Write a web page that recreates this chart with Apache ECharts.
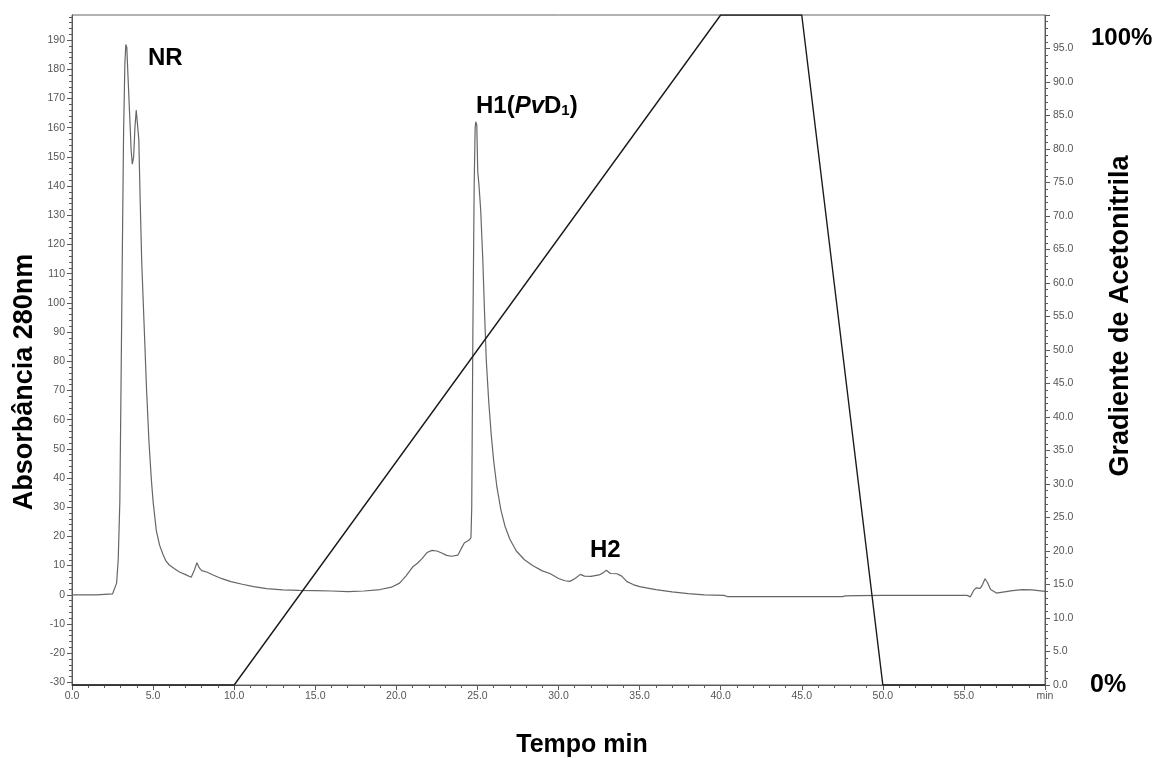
<!DOCTYPE html>
<html>
<head>
<meta charset="utf-8">
<title>Cromatograma</title>
<script src="https://cdn.jsdelivr.net/npm/echarts@6/dist/echarts.min.js"></script>
<style>
  html, body { margin: 0; padding: 0; background: #ffffff; }
  #chart { width: 1152px; height: 758px; }
</style>
</head>
<body>
<div id="chart"></div>
<script>
// Retention time (min) and absorbance at 280 nm
const timeMin = [
  0, 1.5, 1.6, 2.5, 2.6, 2.75, 2.85, 2.95, 3.02, 3.1, 3.18, 3.26, 3.32, 3.38, 3.45, 3.55, 3.65, 3.72,
  3.8, 3.88, 3.96, 4.04, 4.12, 4.2, 4.3, 4.45, 4.6, 4.75, 4.9, 5.0, 5.2, 5.4, 5.6, 5.8, 6.0, 6.3, 6.6,
  7.0, 7.35, 7.55, 7.7, 7.85, 8.0, 8.3, 8.7, 9.2, 9.8, 10.5, 11.2, 12.0, 13.0, 14.0, 15.0, 16.0, 17.0,
  18.0, 19.0, 19.7, 20.2, 20.6, 21.0, 21.3, 21.6, 21.9, 22.2, 22.5, 22.8, 23.1, 23.4, 23.8, 24.0, 24.2,
  24.45, 24.6, 24.65, 24.72, 24.8, 24.86, 24.9, 24.96, 25.02, 25.1, 25.2, 25.33, 25.45, 25.55, 25.7,
  25.85, 26.0, 26.2, 26.45, 26.7, 27.0, 27.4, 27.9, 28.4, 29.0, 29.5, 30.0, 30.4, 30.7, 31.0, 31.35,
  31.6, 32.0, 32.5, 32.75, 32.95, 33.2, 33.6, 33.9, 34.2, 34.6, 35.0, 36.0, 37.0, 38.0, 39.0, 40.2,
  40.4, 44.0, 47.5, 47.7, 48.5, 50.0, 55.2, 55.4, 55.6, 55.75, 56.0, 56.15, 56.3, 56.45, 56.65, 57.0,
  57.5, 58.0, 58.6, 59.2, 60.0
];
const absorbance = [
  0, 0, 0.3, 0.3, 0.8, 4, 12, 32, 70, 115, 158, 182, 188.5, 187.5, 178, 165, 152, 147.5,
  150, 160, 166, 165.5, 156, 136, 114, 92, 70, 52, 39, 32, 22, 17, 14, 11.5, 10.2, 9.0, 7.9,
  6.9, 6.0, 8.5, 11, 9.2, 8.3, 7.8, 6.8, 5.6, 4.5, 3.6, 2.8, 2.1, 1.7, 1.5, 1.4, 1.3, 1.1,
  1.3, 1.8, 2.6, 4.0, 6.5, 9.5, 10.8, 12.5, 14.5, 15.2, 15.0, 14.3, 13.5, 13.2, 13.6, 15.8, 17.8,
  18.6, 19.5, 30, 90, 140, 160, 162, 161, 145, 140, 132, 115, 95, 80, 66,
  55, 46, 37, 29, 23.5, 19, 15, 12, 10, 8.2, 7.2, 5.6, 4.8, 4.6, 5.5, 7.0,
  6.4, 6.3, 6.8, 7.5, 8.4, 7.3, 7.2, 6.4, 4.6, 3.5, 2.8, 1.8, 1.0, 0.4, 0.0, -0.2,
  -0.6, -0.6, -0.6, -0.4, -0.3, -0.2, -0.2, -0.7, 1.5, 2.4, 2.2, 3.5, 5.5, 4.2, 1.8, 0.6,
  1.0, 1.4, 1.8, 1.7, 1.2
];

// Acetonitrile gradient program (% B)
const gradTime = [0, 10, 40, 45, 50, 60];
const gradPct = [0, 0, 100, 100, 0, 0];

// Tick values
const absTicks = [-30, -20, -10, 0, 10, 20, 30, 40, 50, 60, 70, 80, 90, 100, 110, 120, 130, 140, 150, 160, 170, 180, 190];
const absMinorTicks = [];
for (let v = -30; v <= 198; v += 2) absMinorTicks.push(v);

const FONT = "'Liberation Sans', Arial, Helvetica, sans-serif";
const AXIS_COLOR = '#5a5a5a';
const LABEL_COLOR = '#555555';

const chart = echarts.init(document.getElementById('chart'), null, { renderer: 'canvas' });

const option = {
  backgroundColor: '#ffffff',
  animation: false,
  grid: {
    left: 72, right: 107, top: 15, bottom: 73,
    show: true, borderColor: '#666666', borderWidth: 1, backgroundColor: 'transparent'
  },
  xAxis: {
    type: 'value', min: 0, max: 60, interval: 5,
    axisLine: { show: true, onZero: false, lineStyle: { color: AXIS_COLOR, width: 1 } },
    axisTick: { show: true, length: 5, lineStyle: { color: AXIS_COLOR } },
    minorTick: { show: true, splitNumber: 5, length: 3, lineStyle: { color: AXIS_COLOR } },
    splitLine: { show: false },
    axisLabel: {
      color: LABEL_COLOR, fontFamily: FONT, fontSize: 10.5, margin: 6,
      formatter: v => (v === 60 ? 'min' : v.toFixed(1))
    }
  },
  yAxis: [
    {
      type: 'value', position: 'left', min: -30.9, max: 198.6,
      axisLine: { show: true, onZero: false, lineStyle: { color: AXIS_COLOR, width: 1 } },
      axisTick: { show: true, length: 5, customValues: absTicks, lineStyle: { color: AXIS_COLOR } },
      splitLine: { show: false },
      axisLabel: {
        color: LABEL_COLOR, fontFamily: FONT, fontSize: 10.5, margin: 7,
        customValues: absTicks, formatter: v => String(v)
      }
    },
    {
      type: 'value', position: 'right', min: 0, max: 100, interval: 5,
      axisLine: { show: true, onZero: false, lineStyle: { color: AXIS_COLOR, width: 1 } },
      axisTick: { show: true, length: 5, lineStyle: { color: AXIS_COLOR } },
      minorTick: { show: true, splitNumber: 5, length: 3, lineStyle: { color: AXIS_COLOR } },
      splitLine: { show: false },
      axisLabel: {
        color: LABEL_COLOR, fontFamily: FONT, fontSize: 10.5, margin: 8,
        showMaxLabel: false, formatter: v => v.toFixed(1)
      }
    },
    {
      // minor ticks of the absorbance scale
      type: 'value', position: 'left', min: -30.9, max: 198.6,
      axisLine: { show: false, onZero: false },
      axisTick: { show: true, length: 3, customValues: absMinorTicks, lineStyle: { color: AXIS_COLOR } },
      splitLine: { show: false },
      axisLabel: { show: false }
    }
  ],
  series: [
    {
      name: 'Absorbância 280nm',
      type: 'line',
      yAxisIndex: 0,
      showSymbol: false,
      symbol: 'none',
      lineStyle: { color: '#666666', width: 1.2 },
      data: timeMin.map((t, i) => [t, absorbance[i]])
    },
    {
      name: 'Gradiente de Acetonitrila',
      type: 'line',
      yAxisIndex: 1,
      showSymbol: false,
      symbol: 'none',
      lineStyle: { color: '#1a1a1a', width: 1.4 },
      data: gradTime.map((t, i) => [t, gradPct[i]])
    }
  ],
  graphic: [
    {
      type: 'text', x: 25, y: 382, rotation: Math.PI / 2,
      style: { text: 'Absorbância 280nm', fontFamily: FONT, fontWeight: 'bold', fontSize: 27,
        fill: '#000', align: 'center', verticalAlign: 'middle' }
    },
    {
      type: 'text', x: 1121, y: 316, rotation: Math.PI / 2,
      style: { text: 'Gradiente de Acetonitrila', fontFamily: FONT, fontWeight: 'bold', fontSize: 27,
        fill: '#000', align: 'center', verticalAlign: 'middle' }
    },
    {
      type: 'text', x: 582, y: 745,
      style: { text: 'Tempo min', fontFamily: FONT, fontWeight: 'bold', fontSize: 25,
        fill: '#000', align: 'center', verticalAlign: 'middle' }
    },
    {
      type: 'text', x: 1091, y: 38,
      style: { text: '100%', fontFamily: FONT, fontWeight: 'bold', fontSize: 24,
        fill: '#000', align: 'left', verticalAlign: 'middle' }
    },
    {
      type: 'text', x: 1090, y: 685,
      style: { text: '0%', fontFamily: FONT, fontWeight: 'bold', fontSize: 25,
        fill: '#000', align: 'left', verticalAlign: 'middle' }
    },
    {
      type: 'text', x: 148, y: 58,
      style: { text: 'NR', fontFamily: FONT, fontWeight: 'bold', fontSize: 24,
        fill: '#000', align: 'left', verticalAlign: 'middle' }
    },
    {
      type: 'text', x: 590, y: 550,
      style: { text: 'H2', fontFamily: FONT, fontWeight: 'bold', fontSize: 24,
        fill: '#000', align: 'left', verticalAlign: 'middle' }
    },
    {
      type: 'text', x: 476, y: 106,
      style: {
        text: '{a|H1(}{i|Pv}{a|D}{s|1}{a|)}',
        fontFamily: FONT, fontWeight: 'bold', fill: '#000',
        align: 'left', verticalAlign: 'middle',
        rich: {
          a: { fontFamily: FONT, fontWeight: 'bold', fontSize: 24, lineHeight: 24, padding: [0, 0, 6, 0], verticalAlign: 'top' },
          i: { fontFamily: FONT, fontWeight: 'bold', fontStyle: 'italic', fontSize: 24, lineHeight: 24, padding: [0, 0, 6, 0], verticalAlign: 'top' },
          s: { fontFamily: FONT, fontWeight: 'bold', fontSize: 15, lineHeight: 15, verticalAlign: 'bottom' }
        }
      }
    }
  ]
};

chart.setOption(option);
</script>
</body>
</html>
